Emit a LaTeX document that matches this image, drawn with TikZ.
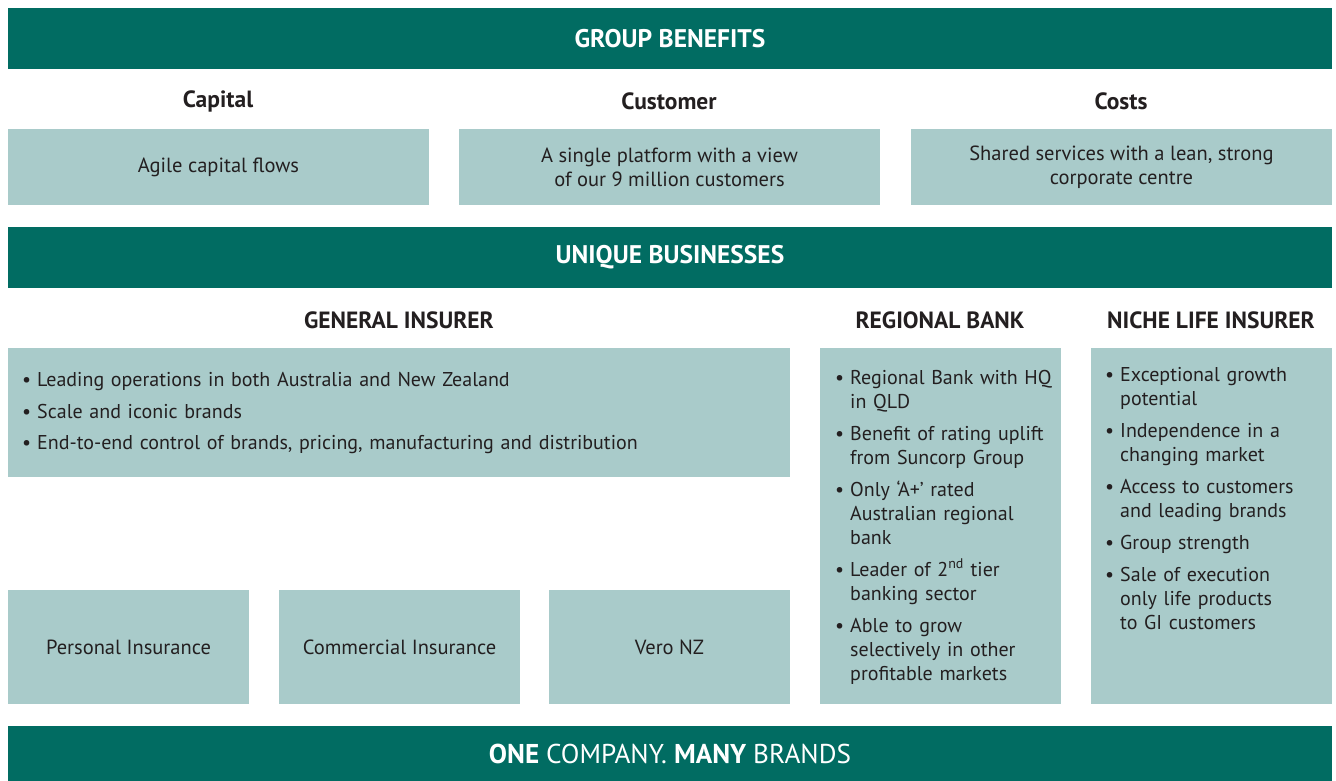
\documentclass[tikz,border=0pt]{standalone}
\usepackage{fontspec}
\setmainfont{PT Sans}
\definecolor{darkteal}{HTML}{016C62}
\definecolor{lightteal}{HTML}{A9CBCA}
\definecolor{ink}{HTML}{231F20}
\newcommand\bl[1]{\par\noindent\hbox to 15pt{•\hss}\parbox[t]{220pt}{\raggedright #1\par\xdef\lastdp{\the\prevdepth}}\par\prevdepth=\lastdp\relax}
\tikzset{
  bar/.style={fill=darkteal, text=white, font=\fontsize{25.5}{30}\selectfont\bfseries, inner sep=0pt, minimum width=1324pt},
  lbox/.style={fill=lightteal, text=ink, font=\fontsize{20.5}{24}\selectfont, inner sep=0pt, align=center},
  head/.style={text=ink, font=\fontsize{23.5}{28}\selectfont\bfseries, inner sep=0pt},
  blist/.style={text=ink, font=\fontsize{20}{24}\selectfont, inner sep=0pt, anchor=base west}
}
\begin{document}
\begin{tikzpicture}[x=1pt,y=-1pt]
\useasboundingbox (0,0) rectangle (1336,781);
% bars
\node[bar, minimum height=61pt] (gb) at (670,38.5) {GROUP BENEFITS};
\node[bar, minimum height=61pt] (ub) at (670,257.5) {UNIQUE BUSINESSES};
\node[bar, minimum height=55pt, font=\fontsize{27.2}{30}\selectfont\bfseries] (oc) at (670,753.5) {ONE \mdseries COMPANY. \bfseries MANY \mdseries BRANDS};
% group benefit headers
\node[head] (hcap) at (218,101) {Capital};
\node[head] (hcus) at (669,101) {Customer};
\node[head] (hcos) at (1121,101) {Costs};
% benefit boxes
\node[lbox, minimum width=421pt, minimum height=76pt] (bcap) at (218.5,167) {Agile capital flows};
\node[lbox, minimum width=421pt, minimum height=76pt] (bcus) at (669.5,167) {A single platform with a view\\of our 9 million customers};
\node[lbox, minimum width=421pt, minimum height=76pt] (bcos) at (1121.5,167) {Shared services with a lean, strong\\corporate centre};
% business headers
\node[head] (hgi) at (399,320) {GENERAL INSURER};
\node[head] (hrb) at (940,320) {REGIONAL BANK};
\node[head] (hnl) at (1211,320) {NICHE LIFE INSURER};
% business boxes
\node[lbox, minimum width=782pt, minimum height=129pt] (gi) at (399,412.5) {};
\node[lbox, minimum width=241pt, minimum height=356pt] (rb) at (940.5,526) {};
\node[lbox, minimum width=241pt, minimum height=356pt] (nl) at (1211.5,526) {};
\node[lbox, minimum width=241pt, minimum height=114pt] (pi) at (128.5,647) {Personal Insurance};
\node[lbox, minimum width=241pt, minimum height=114pt] (ci) at (399.5,647) {Commercial Insurance};
\node[lbox, minimum width=241pt, minimum height=114pt] (vn) at (669.5,647) {Vero NZ};
% lists
\node[blist, text width=760pt] (gil) at (22,355) {\setlength{\parskip}{7.5pt}%
\par\noindent\hbox to 15pt{•\hss}Leading operations in both Australia and New Zealand
\par\noindent\hbox to 15pt{•\hss}Scale and iconic brands
\par\noindent\hbox to 15pt{•\hss}End-to-end control of brands, pricing, manufacturing and distribution};
\node[blist, text width=235pt] (rbl) at (835,352) {\setlength{\parskip}{8pt}%
\bl{Regional Bank with HQ\newline in QLD}
\bl{Benefit of rating uplift\newline from Suncorp Group}
\bl{Only ‘A+’ rated\newline Australian regional\newline bank}
\bl{Leader of 2\textsuperscript{nd} tier\newline banking sector}
\bl{Able to grow\newline selectively in other\newline profitable markets}};
\node[blist, text width=235pt] (nll) at (1105,349) {\setlength{\parskip}{8pt}%
\bl{Exceptional growth\newline potential}
\bl{Independence in a\newline changing market}
\bl{Access to customers\newline and leading brands}
\bl{Group strength}
\bl{Sale of execution\newline only life products\newline to GI customers}};
\end{tikzpicture}
\end{document}
